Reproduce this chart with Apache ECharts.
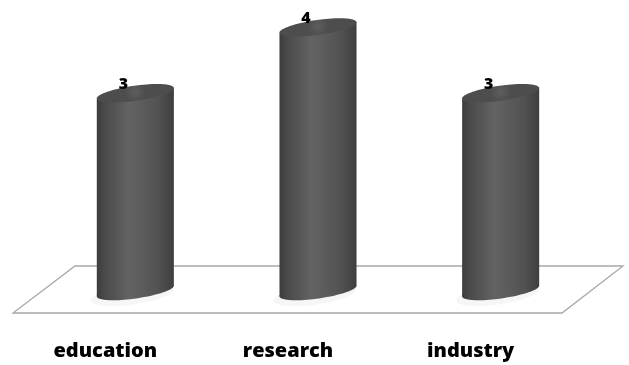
<!DOCTYPE html>
<html>
<head>
<meta charset="utf-8">
<title>Cylinder chart</title>
<script src="https://cdn.jsdelivr.net/npm/echarts@6/dist/echarts.min.js"></script>
<style>
  html, body { margin: 0; padding: 0; background: #fff; }
  #chart { width: 629px; height: 365px; }
</style>
</head>
<body>
<div id="chart"></div>
<script>
// Categories and their counts
const categories = ['education', 'research', 'industry'];
const values = [3, 4, 3];

const chart = echarts.init(document.getElementById('chart'), null, { renderer: 'canvas' });

const TILT = 8 * Math.PI / 180;   // slight perspective tilt of the cylinder ends
const RY = 7.5;                    // half-height of the elliptical ends
const FONT = '"Open Sans", Lato, sans-serif';

function bodyGradient() {
  return new echarts.graphic.LinearGradient(0, 0, 1, 0, [
    { offset: 0, color: '#3c3c3c' },
    { offset: 0.1, color: '#4a4a4a' },
    { offset: 0.42, color: '#636363' },
    { offset: 0.8, color: '#525252' },
    { offset: 1, color: '#3e3e3e' }
  ]);
}

function renderCylinder(params, api) {
  const idx = api.value(0);
  const v = api.value(1);
  const base = api.coord([idx, 0]);
  const top = api.coord([idx, v]);
  const band = api.size([1, 0])[0];
  const a = band * 0.213;
  const cx = base[0];
  const y0 = base[1];
  const y1 = top[1];
  const dx = a * Math.cos(TILT);
  const dy = a * Math.sin(TILT);

  return {
    type: 'group',
    children: [
      {
        type: 'ellipse',
        shape: { cx: cx - 3, cy: y0 + 4, rx: a + 3, ry: RY + 2 },
        rotation: TILT, originX: cx - 3, originY: y0 + 4,
        style: { fill: 'rgba(0,0,0,0.035)' },
        z2: 0
      },
      {
        type: 'ellipse',
        shape: { cx: cx, cy: y0, rx: a, ry: RY },
        rotation: TILT, originX: cx, originY: y0,
        style: { fill: bodyGradient() },
        z2: 1
      },
      {
        type: 'polygon',
        shape: { points: [
          [cx - dx, y1 + dy], [cx + dx, y1 - dy],
          [cx + dx, y0 - dy], [cx - dx, y0 + dy]
        ] },
        style: { fill: bodyGradient() },
        z2: 2
      },
      {
        type: 'ellipse',
        shape: { cx: cx, cy: y1, rx: a, ry: RY },
        rotation: TILT, originX: cx, originY: y1,
        style: {
          fill: new echarts.graphic.RadialGradient(0.5, 0.4, 0.7, [
            { offset: 0, color: '#5e5e5e' },
            { offset: 1, color: '#4d4d4d' }
          ])
        },
        z2: 3
      },
      {
        type: 'text',
        x: cx - 12,
        y: y1 - 9,
        style: {
          text: String(v),
          fill: '#000',
          font: '800 16px ' + FONT,
          align: 'center',
          verticalAlign: 'middle'
        },
        z2: 4
      }
    ]
  };
}

chart.setOption({
  animation: false,
  backgroundColor: '#ffffff',
  grid: [
    { left: 44, right: 37, top: 1, bottom: 74 },
    { left: 14, right: 67, top: 1, bottom: 74 }
  ],
  xAxis: [
    {
      type: 'category', gridIndex: 0, data: categories,
      axisLine: { show: false }, axisTick: { show: false }, axisLabel: { show: false }
    },
    {
      type: 'category', gridIndex: 1, data: categories,
      axisLine: { show: false }, axisTick: { show: false },
      axisLabel: {
        color: '#000', fontWeight: 800, fontSize: 20,
        fontFamily: FONT, margin: 50
      }
    }
  ],
  yAxis: [
    { type: 'value', gridIndex: 0, min: 0, max: 4.4, show: false },
    { type: 'value', gridIndex: 1, min: 0, max: 4.4, show: false }
  ],
  graphic: [
    {
      type: 'polygon',
      shape: { points: [[75, 266], [623, 266], [562, 313], [13, 313]] },
      style: { fill: 'none', stroke: '#a8a8a8', lineWidth: 1.3 },
      z: 0
    }
  ],
  series: [
    {
      type: 'custom',
      xAxisIndex: 0, yAxisIndex: 0,
      z: 10,
      data: values.map((v, i) => [i, v]),
      renderItem: renderCylinder
    }
  ]
});
</script>
</body>
</html>
